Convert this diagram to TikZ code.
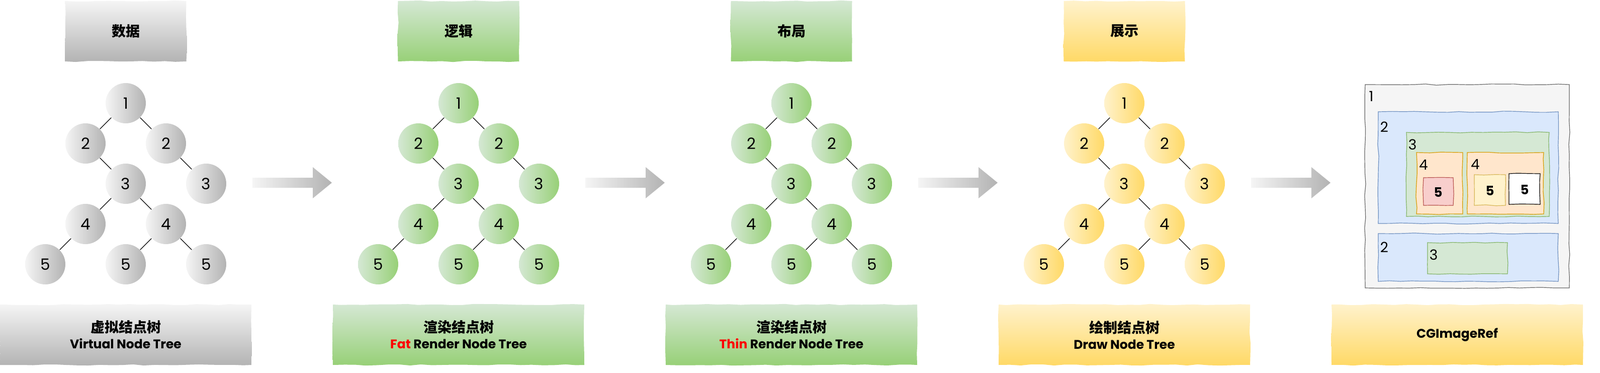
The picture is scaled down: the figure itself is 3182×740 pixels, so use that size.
\documentclass[tikz,border=0pt]{standalone}
\usepackage{fontspec}
\setmainfont{Poppins}
\newfontfamily\cjk{Noto Sans CJK SC}
\usepackage{tikz}
\usetikzlibrary{decorations.pathmorphing}
\definecolor{grayhi}{HTML}{F5F5F5}
\definecolor{graylo}{HTML}{B3B3B3}
\definecolor{greenhi}{HTML}{D5E8D4}
\definecolor{greenlo}{HTML}{97D077}
\definecolor{yellowhi}{HTML}{FFF2CC}
\definecolor{yellowlo}{HTML}{FFD966}
\definecolor{frameline}{HTML}{666666}
\definecolor{bluefill}{HTML}{DAE8FC}
\definecolor{blueline}{HTML}{6C8EBF}
\definecolor{greenline}{HTML}{82B366}
\definecolor{orangefill}{HTML}{FFE6CC}
\definecolor{orangeline}{HTML}{D79B00}
\definecolor{redfill}{HTML}{F8CECC}
\definecolor{redline}{HTML}{B85450}
\definecolor{yellowline}{HTML}{D6B656}
\tikzset{
  sketchy/.style={decorate,decoration={random steps,segment length=22pt,amplitude=1.2pt}},
  headbox/.style={sketchy,minimum width=241pt,minimum height=120pt,inner sep=0pt,
    font=\cjk\bfseries\fontsize{28}{34}\selectfont},
  footbox/.style={sketchy,minimum width=500pt,minimum height=120pt,inner sep=0pt,
    align=center,font=\bfseries\fontsize{25}{32}\selectfont},
  ball/.style={circle,minimum size=80pt,inner sep=0pt,font=\fontsize{31}{36}\selectfont},
  cglabel/.style={inner sep=0pt,font=\fontsize{28}{34}\selectfont},
}
\newcommand{\cjkline}[1]{{\cjk\fontsize{28}{32}\selectfont #1}}

\begin{document}
\begin{tikzpicture}[x=1pt,y=-1pt,line width=1.2pt]
  \useasboundingbox (0,0) rectangle (3182,740);
  % the four trees
  \foreach \p/\cx/\hi/\lo/\head in {a/250/grayhi/graylo/数据,b/912/greenhi/greenlo/逻辑,
      c/1574/greenhi/greenlo/布局,d/2236/yellowhi/yellowlo/展示}{
    \node[headbox,top color=\hi,bottom color=\lo] (\p head) at (\cx,62) {\head};
    \node[ball,left color=\hi,right color=\lo] (\p1) at (\cx,205) {1};
    \node[ball,left color=\hi,right color=\lo] (\p2l) at (\cx-80,285) {2};
    \node[ball,left color=\hi,right color=\lo] (\p2r) at (\cx+80,285) {2};
    \node[ball,left color=\hi,right color=\lo] (\p3l) at (\cx,365) {3};
    \node[ball,left color=\hi,right color=\lo] (\p3r) at (\cx+160,365) {3};
    \node[ball,left color=\hi,right color=\lo] (\p4l) at (\cx-80,445) {4};
    \node[ball,left color=\hi,right color=\lo] (\p4r) at (\cx+80,445) {4};
    \node[ball,left color=\hi,right color=\lo] (\p5l) at (\cx-160,525) {5};
    \node[ball,left color=\hi,right color=\lo] (\p5m) at (\cx,525) {5};
    \node[ball,left color=\hi,right color=\lo] (\p5r) at (\cx+160,525) {5};
    \draw (\p1)--(\p2l) (\p1)--(\p2r) (\p2l)--(\p3l) (\p2r)--(\p3r)
      (\p3l)--(\p4l) (\p3l)--(\p4r) (\p4l)--(\p5l) (\p4r)--(\p5m) (\p4r)--(\p5r);
  }
  % arrows between stages
  \foreach \x in {502,1164,1826,2488}
    \shade[left color=grayhi,right color=graylo]
      (\x,353)--({\x+120},353)--({\x+120},332)--({\x+158},363)
      --({\x+120},394)--({\x+120},373)--(\x,373)--cycle;
  % footers
  \node[footbox,top color=grayhi,bottom color=graylo] (afoot) at (250,665)
    {\cjkline{虚拟结点树}\\Virtual Node Tree};
  \node[footbox,top color=greenhi,bottom color=greenlo] (bfoot) at (912,665)
    {\cjkline{渲染结点树}\\\textcolor{red}{Fat} Render Node Tree};
  \node[footbox,top color=greenhi,bottom color=greenlo] (cfoot) at (1574,665)
    {\cjkline{渲染结点树}\\\textcolor{red}{Thin} Render Node Tree};
  \node[footbox,top color=yellowhi,bottom color=yellowlo] (dfoot) at (2236,665)
    {\cjkline{绘制结点树}\\Draw Node Tree};
  \node[footbox,top color=yellowhi,bottom color=yellowlo] (efoot) at (2898,665)
    {CGImageRef};
  % the drawn image
  \filldraw[sketchy,fill=grayhi,draw=frameline] (2715,168) rectangle (3121,572);
  \filldraw[sketchy,fill=bluefill,draw=blueline] (2741,222) rectangle (3099,444);
  \filldraw[sketchy,fill=greenhi,draw=greenline] (2797,263) rectangle (3081,430);
  \filldraw[sketchy,fill=orangefill,draw=orangeline] (2817,303) rectangle (2909,425);
  \filldraw[sketchy,fill=redfill,draw=redline] (2831,353) rectangle (2890,408);
  \filldraw[sketchy,fill=orangefill,draw=orangeline] (2918,303) rectangle (3070,425);
  \filldraw[sketchy,fill=yellowhi,draw=yellowline] (2932,347) rectangle (2994,408);
  \filldraw[sketchy,fill=white,draw=black] (3001,345) rectangle (3063,406);
  \filldraw[sketchy,fill=bluefill,draw=blueline] (2741,464) rectangle (3099,559);
  \filldraw[sketchy,fill=greenhi,draw=greenline] (2839,482) rectangle (2998,544);
  \node[cglabel] (cg1) at (2727,191) {1};
  \node[cglabel] (cg2a) at (2753,252) {2};
  \node[cglabel] (cg3a) at (2809,287) {3};
  \node[cglabel] (cg4a) at (2831,327) {4};
  \node[cglabel] (cg4b) at (2934,326) {4};
  \node[cglabel,font=\bfseries\fontsize{26}{32}\selectfont] (cg5a) at (2860,382) {5};
  \node[cglabel,font=\bfseries\fontsize{26}{32}\selectfont] (cg5b) at (2963,379) {5};
  \node[cglabel,font=\bfseries\fontsize{26}{32}\selectfont] (cg5c) at (3032,377) {5};
  \node[cglabel] (cg2b) at (2753,491) {2};
  \node[cglabel] (cg3b) at (2851,506) {3};
\end{tikzpicture}
\end{document}
